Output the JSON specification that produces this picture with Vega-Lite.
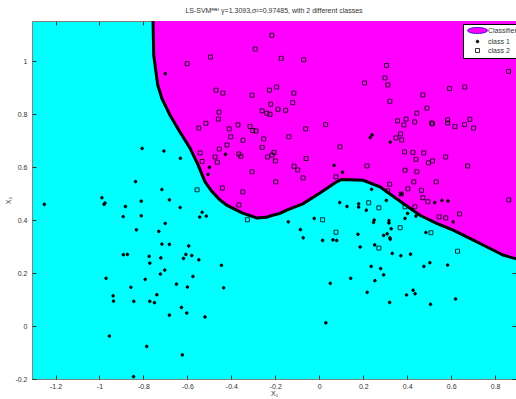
{
  "$schema": "https://vega.github.io/schema/vega-lite/v6.json",
  "width": 484,
  "height": 358,
  "autosize": "none",
  "padding": {"left": 32, "top": 21, "right": 0, "bottom": 20},
  "config": {
    "font": "Liberation Sans",
    "view": {"fill": "#00FFFF", "stroke": "#808080", "strokeWidth": 1},
    "axis": {"grid": false, "labelFont": "Liberation Sans", "labelFontSize": 7, "labelColor": "#333333", "tickColor": "#333333", "domainColor": "#808080", "titleFont": "Liberation Sans", "titleFontSize": 7, "titleFontWeight": "normal", "titleColor": "#333333"}
  },
  "title": {"text": "LS-SVMᴿᴮᶠ γ=1.3093,σ²=0.97485, with 2 different classes", "fontSize": 7, "fontWeight": "normal", "color": "#333333", "offset": 7, "anchor": "middle", "font": "Liberation Sans"},
  "datasets": {
    "boundary": [
      {"x": -0.757, "y": 1.17}, {"x": -0.753, "y": 1.02}, {"x": -0.735, "y": 0.91}, {"x": -0.716, "y": 0.859},
      {"x": -0.679, "y": 0.795}, {"x": -0.634, "y": 0.732}, {"x": -0.588, "y": 0.671}, {"x": -0.551, "y": 0.607},
      {"x": -0.52, "y": 0.544}, {"x": -0.489, "y": 0.508}, {"x": -0.455, "y": 0.478}, {"x": -0.421, "y": 0.456},
      {"x": -0.36, "y": 0.431}, {"x": -0.345, "y": 0.425}, {"x": -0.285, "y": 0.408}, {"x": -0.239, "y": 0.41},
      {"x": -0.224, "y": 0.415}, {"x": -0.179, "y": 0.425}, {"x": -0.148, "y": 0.437}, {"x": -0.073, "y": 0.462},
      {"x": 0.003, "y": 0.502}, {"x": 0.079, "y": 0.544}, {"x": 0.102, "y": 0.553}, {"x": 0.2, "y": 0.55},
      {"x": 0.276, "y": 0.525}, {"x": 0.382, "y": 0.462}, {"x": 0.458, "y": 0.418}, {"x": 0.534, "y": 0.387},
      {"x": 0.609, "y": 0.362}, {"x": 0.685, "y": 0.331}, {"x": 0.761, "y": 0.299}, {"x": 0.836, "y": 0.268},
      {"x": 0.91, "y": 0.25}
    ],
    "points": [
      {"x": -0.216, "y": 1.097, "c": "class 2"}, {"x": -0.292, "y": 1.045, "c": "class 2"}, {"x": -0.495, "y": 1.015, "c": "class 2"}, {"x": -0.601, "y": 0.99, "c": "class 2"},
      {"x": -0.47, "y": 0.89, "c": "class 2"}, {"x": -0.439, "y": 0.879, "c": "class 2"}, {"x": -0.306, "y": 0.871, "c": "class 2"}, {"x": -0.227, "y": 0.89, "c": "class 2"},
      {"x": -0.194, "y": 0.902, "c": "class 2"}, {"x": -0.221, "y": 0.837, "c": "class 2"}, {"x": -0.188, "y": 0.818, "c": "class 2"}, {"x": -0.26, "y": 0.812, "c": "class 2"},
      {"x": -0.239, "y": 0.803, "c": "class 2"}, {"x": -0.224, "y": 0.799, "c": "class 2"}, {"x": -0.456, "y": 0.807, "c": "class 2"}, {"x": -0.459, "y": 0.781, "c": "class 2"},
      {"x": -0.516, "y": 0.765, "c": "class 2"}, {"x": -0.548, "y": 0.747, "c": "class 2"}, {"x": -0.41, "y": 0.744, "c": "class 2"}, {"x": -0.37, "y": 0.759, "c": "class 2"},
      {"x": -0.315, "y": 0.753, "c": "class 2"}, {"x": -0.303, "y": 0.738, "c": "class 2"}, {"x": -0.288, "y": 0.736, "c": "class 2"}, {"x": -0.403, "y": 0.714, "c": "class 2"},
      {"x": -0.347, "y": 0.701, "c": "class 2"}, {"x": -0.253, "y": 0.706, "c": "class 2"}, {"x": -0.42, "y": 0.683, "c": "class 2"}, {"x": -0.455, "y": 0.668, "c": "class 2"},
      {"x": -0.26, "y": 0.674, "c": "class 2"}, {"x": -0.206, "y": 0.655, "c": "class 2"}, {"x": -0.215, "y": 0.645, "c": "class 2"}, {"x": -0.235, "y": 0.638, "c": "class 2"},
      {"x": -0.2, "y": 0.623, "c": "class 2"}, {"x": -0.366, "y": 0.649, "c": "class 2"}, {"x": -0.357, "y": 0.64, "c": "class 2"}, {"x": -0.542, "y": 0.653, "c": "class 2"},
      {"x": -0.474, "y": 0.638, "c": "class 2"}, {"x": -0.533, "y": 0.621, "c": "class 2"}, {"x": -0.464, "y": 0.618, "c": "class 2"}, {"x": -0.306, "y": 0.582, "c": "class 2"},
      {"x": -0.198, "y": 0.544, "c": "class 2"}, {"x": -0.441, "y": 0.521, "c": "class 2"}, {"x": -0.556, "y": 0.514, "c": "class 2"}, {"x": -0.348, "y": 0.506, "c": "class 2"},
      {"x": -0.366, "y": 0.457, "c": "class 2"}, {"x": -0.327, "y": 0.401, "c": "class 2"}, {"x": -0.173, "y": 1.01, "c": "class 2"}, {"x": -0.071, "y": 1.005, "c": "class 2"},
      {"x": 0.306, "y": 0.983, "c": "class 2"}, {"x": 0.861, "y": 0.961, "c": "class 2"}, {"x": 0.299, "y": 0.936, "c": "class 2"}, {"x": 0.206, "y": 0.917, "c": "class 2"},
      {"x": 0.312, "y": 0.91, "c": "class 2"}, {"x": -0.116, "y": 0.879, "c": "class 2"}, {"x": 0.593, "y": 0.896, "c": "class 2"}, {"x": 0.662, "y": 0.902, "c": "class 2"},
      {"x": 0.471, "y": 0.872, "c": "class 2"}, {"x": 0.321, "y": 0.848, "c": "class 2"}, {"x": -0.121, "y": 0.843, "c": "class 2"}, {"x": -0.153, "y": 0.814, "c": "class 2"},
      {"x": 0.49, "y": 0.822, "c": "class 2"}, {"x": 0.444, "y": 0.803, "c": "class 2"}, {"x": 0.029, "y": 0.76, "c": "class 2"}, {"x": -0.062, "y": 0.744, "c": "class 2"},
      {"x": 0.356, "y": 0.774, "c": "class 2"}, {"x": 0.395, "y": 0.781, "c": "class 2"}, {"x": 0.385, "y": 0.759, "c": "class 2"}, {"x": 0.434, "y": 0.77, "c": "class 2"},
      {"x": 0.511, "y": 0.766, "c": "class 2"}, {"x": 0.515, "y": 0.763, "c": "class 2"}, {"x": 0.584, "y": 0.778, "c": "class 2"}, {"x": 0.584, "y": 0.766, "c": "class 2"},
      {"x": 0.617, "y": 0.753, "c": "class 2"}, {"x": 0.661, "y": 0.76, "c": "class 2"}, {"x": 0.685, "y": 0.78, "c": "class 2"}, {"x": 0.702, "y": 0.747, "c": "class 2"},
      {"x": -0.138, "y": 0.714, "c": "class 2"}, {"x": 0.37, "y": 0.725, "c": "class 2"}, {"x": 0.349, "y": 0.71, "c": "class 2"}, {"x": 0.375, "y": 0.702, "c": "class 2"},
      {"x": 0.094, "y": 0.676, "c": "class 2"}, {"x": -0.06, "y": 0.632, "c": "class 2"}, {"x": 0.388, "y": 0.657, "c": "class 2"}, {"x": 0.426, "y": 0.655, "c": "class 2"},
      {"x": 0.475, "y": 0.653, "c": "class 2"}, {"x": 0.44, "y": 0.629, "c": "class 2"}, {"x": 0.575, "y": 0.638, "c": "class 2"}, {"x": 0.497, "y": 0.616, "c": "class 2"},
      {"x": 0.515, "y": 0.623, "c": "class 2"}, {"x": -0.115, "y": 0.603, "c": "class 2"}, {"x": -0.098, "y": 0.589, "c": "class 2"}, {"x": 0.217, "y": 0.604, "c": "class 2"},
      {"x": 0.675, "y": 0.604, "c": "class 2"}, {"x": 0.39, "y": 0.588, "c": "class 2"}, {"x": 0.444, "y": 0.582, "c": "class 2"}, {"x": -0.074, "y": 0.559, "c": "class 2"},
      {"x": 0.076, "y": 0.563, "c": "class 2"}, {"x": 0.43, "y": 0.544, "c": "class 2"}, {"x": 0.532, "y": 0.544, "c": "class 2"}, {"x": 0.32, "y": 0.535, "c": "class 2"},
      {"x": 0.311, "y": 0.51, "c": "class 2"}, {"x": 0.403, "y": 0.518, "c": "class 2"}, {"x": 0.465, "y": 0.512, "c": "class 2"}, {"x": 0.373, "y": 0.498, "c": "class 2"},
      {"x": 0.471, "y": 0.484, "c": "class 2"}, {"x": 0.494, "y": 0.469, "c": "class 2"}, {"x": 0.225, "y": 0.465, "c": "class 2"}, {"x": 0.271, "y": 0.446, "c": "class 2"},
      {"x": 0.39, "y": 0.45, "c": "class 2"}, {"x": 0.435, "y": 0.45, "c": "class 2"}, {"x": 0.638, "y": 0.423, "c": "class 2"}, {"x": 0.862, "y": 0.476, "c": "class 2"},
      {"x": 0.545, "y": 0.412, "c": "class 2"}, {"x": 0.575, "y": 0.408, "c": "class 2"}, {"x": 0.015, "y": 0.401, "c": "class 2"}, {"x": 0.076, "y": 0.354, "c": "class 2"},
      {"x": 0.368, "y": 0.371, "c": "class 2"}, {"x": 0.508, "y": 0.352, "c": "class 2"}, {"x": 0.271, "y": 0.294, "c": "class 2"}, {"x": 0.629, "y": 0.282, "c": "class 2"},
      {"x": -0.701, "y": 0.952, "c": "class 1"}, {"x": -0.427, "y": 0.648, "c": "class 1"}, {"x": -0.5, "y": 0.599, "c": "class 1"}, {"x": -0.506, "y": 0.572, "c": "class 1"},
      {"x": -0.806, "y": 0.67, "c": "class 1"}, {"x": -0.707, "y": 0.66, "c": "class 1"}, {"x": -0.632, "y": 0.633, "c": "class 1"}, {"x": -0.836, "y": 0.545, "c": "class 1"},
      {"x": -0.716, "y": 0.515, "c": "class 1"}, {"x": -0.989, "y": 0.484, "c": "class 1"}, {"x": -0.975, "y": 0.464, "c": "class 1"}, {"x": -0.979, "y": 0.459, "c": "class 1"},
      {"x": -0.81, "y": 0.471, "c": "class 1"}, {"x": -0.682, "y": 0.476, "c": "class 1"}, {"x": -1.251, "y": 0.459, "c": "class 1"}, {"x": -0.882, "y": 0.451, "c": "class 1"},
      {"x": -0.633, "y": 0.447, "c": "class 1"}, {"x": -0.533, "y": 0.429, "c": "class 1"}, {"x": -0.892, "y": 0.413, "c": "class 1"}, {"x": -0.81, "y": 0.416, "c": "class 1"},
      {"x": -0.544, "y": 0.411, "c": "class 1"}, {"x": -0.514, "y": 0.415, "c": "class 1"}, {"x": -0.701, "y": 0.387, "c": "class 1"}, {"x": -0.832, "y": 0.363, "c": "class 1"},
      {"x": -0.73, "y": 0.357, "c": "class 1"}, {"x": -0.716, "y": 0.309, "c": "class 1"}, {"x": -0.682, "y": 0.308, "c": "class 1"}, {"x": -0.594, "y": 0.302, "c": "class 1"},
      {"x": -0.891, "y": 0.269, "c": "class 1"}, {"x": -0.873, "y": 0.27, "c": "class 1"}, {"x": -0.774, "y": 0.263, "c": "class 1"}, {"x": -0.721, "y": 0.257, "c": "class 1"},
      {"x": -0.607, "y": 0.27, "c": "class 1"}, {"x": -0.58, "y": 0.266, "c": "class 1"}, {"x": -0.618, "y": 0.255, "c": "class 1"}, {"x": -0.548, "y": 0.25, "c": "class 1"},
      {"x": -0.771, "y": 0.237, "c": "class 1"}, {"x": -0.445, "y": 0.229, "c": "class 1"}, {"x": -0.703, "y": 0.211, "c": "class 1"}, {"x": -0.723, "y": 0.196, "c": "class 1"},
      {"x": -0.97, "y": 0.18, "c": "class 1"}, {"x": -0.792, "y": 0.176, "c": "class 1"}, {"x": -0.575, "y": 0.187, "c": "class 1"}, {"x": -0.65, "y": 0.158, "c": "class 1"},
      {"x": -0.857, "y": 0.146, "c": "class 1"}, {"x": -0.6, "y": 0.147, "c": "class 1"}, {"x": -0.435, "y": 0.144, "c": "class 1"}, {"x": -0.938, "y": 0.114, "c": "class 1"},
      {"x": -0.936, "y": 0.094, "c": "class 1"}, {"x": -0.844, "y": 0.093, "c": "class 1"}, {"x": -0.739, "y": 0.118, "c": "class 1"}, {"x": -0.771, "y": 0.093, "c": "class 1"},
      {"x": -0.75, "y": 0.088, "c": "class 1"}, {"x": -0.627, "y": 0.07, "c": "class 1"}, {"x": -0.603, "y": 0.049, "c": "class 1"}, {"x": -0.682, "y": 0.041, "c": "class 1"},
      {"x": -0.52, "y": 0.034, "c": "class 1"}, {"x": -0.955, "y": -0.038, "c": "class 1"}, {"x": -0.785, "y": -0.077, "c": "class 1"}, {"x": -0.623, "y": -0.109, "c": "class 1"},
      {"x": -0.845, "y": -0.191, "c": "class 1"}, {"x": 0.24, "y": 0.721, "c": "class 1"}, {"x": 0.232, "y": 0.711, "c": "class 1"}, {"x": 0.323, "y": 0.694, "c": "class 1"},
      {"x": 0.067, "y": 0.606, "c": "class 1"}, {"x": 0.106, "y": 0.58, "c": "class 1"}, {"x": 0.238, "y": 0.516, "c": "class 1"}, {"x": 0.305, "y": 0.474, "c": "class 1"},
      {"x": 0.373, "y": 0.498, "c": "class 1"}, {"x": 0.525, "y": 0.466, "c": "class 1"}, {"x": 0.558, "y": 0.474, "c": "class 1"}, {"x": 0.586, "y": 0.472, "c": "class 1"},
      {"x": 0.093, "y": 0.466, "c": "class 1"}, {"x": 0.126, "y": 0.451, "c": "class 1"}, {"x": 0.179, "y": 0.461, "c": "class 1"}, {"x": 0.179, "y": 0.449, "c": "class 1"},
      {"x": 0.214, "y": 0.437, "c": "class 1"}, {"x": 0.402, "y": 0.425, "c": "class 1"}, {"x": -0.141, "y": 0.393, "c": "class 1"}, {"x": -0.023, "y": 0.406, "c": "class 1"},
      {"x": 0.25, "y": 0.4, "c": "class 1"}, {"x": 0.247, "y": 0.391, "c": "class 1"}, {"x": 0.317, "y": 0.398, "c": "class 1"}, {"x": 0.317, "y": 0.389, "c": "class 1"},
      {"x": 0.39, "y": 0.406, "c": "class 1"}, {"x": 0.44, "y": 0.415, "c": "class 1"}, {"x": 0.609, "y": 0.393, "c": "class 1"}, {"x": -0.086, "y": 0.364, "c": "class 1"},
      {"x": -0.073, "y": 0.333, "c": "class 1"}, {"x": 0.015, "y": 0.323, "c": "class 1"}, {"x": 0.062, "y": 0.325, "c": "class 1"}, {"x": 0.079, "y": 0.323, "c": "class 1"},
      {"x": 0.176, "y": 0.346, "c": "class 1"}, {"x": 0.186, "y": 0.298, "c": "class 1"}, {"x": 0.252, "y": 0.306, "c": "class 1"}, {"x": 0.293, "y": 0.342, "c": "class 1"},
      {"x": 0.309, "y": 0.348, "c": "class 1"}, {"x": 0.321, "y": 0.333, "c": "class 1"}, {"x": 0.323, "y": 0.327, "c": "class 1"}, {"x": 0.327, "y": 0.367, "c": "class 1"},
      {"x": 0.485, "y": 0.353, "c": "class 1"}, {"x": 0.332, "y": 0.274, "c": "class 1"}, {"x": 0.371, "y": 0.265, "c": "class 1"}, {"x": 0.415, "y": 0.271, "c": "class 1"},
      {"x": 0.236, "y": 0.225, "c": "class 1"}, {"x": 0.279, "y": 0.217, "c": "class 1"}, {"x": 0.293, "y": 0.193, "c": "class 1"}, {"x": 0.253, "y": 0.171, "c": "class 1"},
      {"x": 0.476, "y": 0.225, "c": "class 1"}, {"x": 0.503, "y": 0.239, "c": "class 1"}, {"x": 0.584, "y": 0.23, "c": "class 1"}, {"x": 0.143, "y": 0.18, "c": "class 1"},
      {"x": 0.05, "y": 0.161, "c": "class 1"}, {"x": 0.218, "y": 0.127, "c": "class 1"}, {"x": 0.427, "y": 0.135, "c": "class 1"}, {"x": 0.436, "y": 0.122, "c": "class 1"},
      {"x": 0.397, "y": 0.117, "c": "class 1"}, {"x": 0.32, "y": 0.089, "c": "class 1"}, {"x": 0.506, "y": 0.082, "c": "class 1"}, {"x": 0.62, "y": 0.102, "c": "class 1"},
      {"x": 0.03, "y": 0.012, "c": "class 1"}
    ]
  },
  "resolve": {"axis": {"x": "independent", "y": "independent"}},
  "layer": [
    {
      "data": {"name": "boundary"},
      "mark": {"type": "area", "color": "#FF00FF", "clip": true, "opacity": 1},
      "encoding": {
        "x": {"field": "x", "type": "quantitative", "scale": {"domain": [-1.307, 0.895], "nice": false, "zero": false},
              "axis": {"orient": "bottom", "values": [-1.2, -1, -0.8, -0.6, -0.4, -0.2, 0, 0.2, 0.4, 0.6, 0.8], "labelExpr": "toString(datum.value)", "tickSize": -4, "labelPadding": 7, "domain": false, "title": "X₁", "titlePadding": 0}},
        "y": {"field": "y", "type": "quantitative", "scale": {"domain": [-0.2, 1.151], "nice": false, "zero": false},
              "axis": {"orient": "left", "values": [-0.2, 0, 0.2, 0.4, 0.6, 0.8, 1], "labelExpr": "toString(datum.value)", "tickSize": -4, "labelPadding": 9, "domain": false, "title": "X₂", "titlePadding": 3}},
        "y2": {"datum": 1.151}
      }
    },
    {
      "data": {"name": "boundary"},
      "mark": {"type": "line", "color": "black", "strokeWidth": 3, "clip": true},
      "encoding": {
        "x": {"field": "x", "type": "quantitative", "axis": {"orient": "top", "values": [-1.2, -1, -0.8, -0.6, -0.4, -0.2, 0, 0.2, 0.4, 0.6, 0.8], "labels": false, "tickSize": -4, "domain": false, "title": null}},
        "y": {"field": "y", "type": "quantitative", "axis": {"orient": "right", "values": [-0.2, 0, 0.2, 0.4, 0.6, 0.8, 1], "labels": false, "tickSize": -4, "domain": false, "title": null}}
      }
    },
    {
      "data": {"name": "points"},
      "mark": {"type": "point", "filled": true, "size": 30, "strokeWidth": 0.8, "opacity": 1},
      "encoding": {
        "x": {"field": "x", "type": "quantitative", "axis": null},
        "y": {"field": "y", "type": "quantitative", "axis": null},
        "shape": {"field": "c", "type": "nominal",
                  "scale": {"domain": ["Classifier", "class 1", "class 2"], "range": ["M-3.65,0A3.65,1.1 0 1,1 3.65,0A3.65,1.1 0 1,1 -3.65,0Z", "M-0.5,0A0.5,0.5 0 1,1 0.5,0A0.5,0.5 0 1,1 -0.5,0Z", "M-0.73,-0.73H0.73V0.73H-0.73Z"]},
                  "legend": {"title": null, "orient": "none", "legendX": 431, "legendY": 3, "fillColor": "white", "strokeColor": "black", "padding": 3, "labelFontSize": 7, "labelColor": "#333333", "labelFont": "Liberation Sans", "symbolSize": 30, "symbolOffset": 8, "labelOffset": 7, "rowPadding": 1, "symbolStrokeWidth": 0.8}},
        "fill": {"field": "c", "type": "nominal", "scale": {"domain": ["Classifier", "class 1", "class 2"], "range": ["#FF00FF", "black", "transparent"]}, "legend": {"title": null}},
        "stroke": {"field": "c", "type": "nominal", "scale": {"domain": ["Classifier", "class 1", "class 2"], "range": ["#0000CC", "black", "black"]}, "legend": {"title": null}}
      }
    }
  ]
}
